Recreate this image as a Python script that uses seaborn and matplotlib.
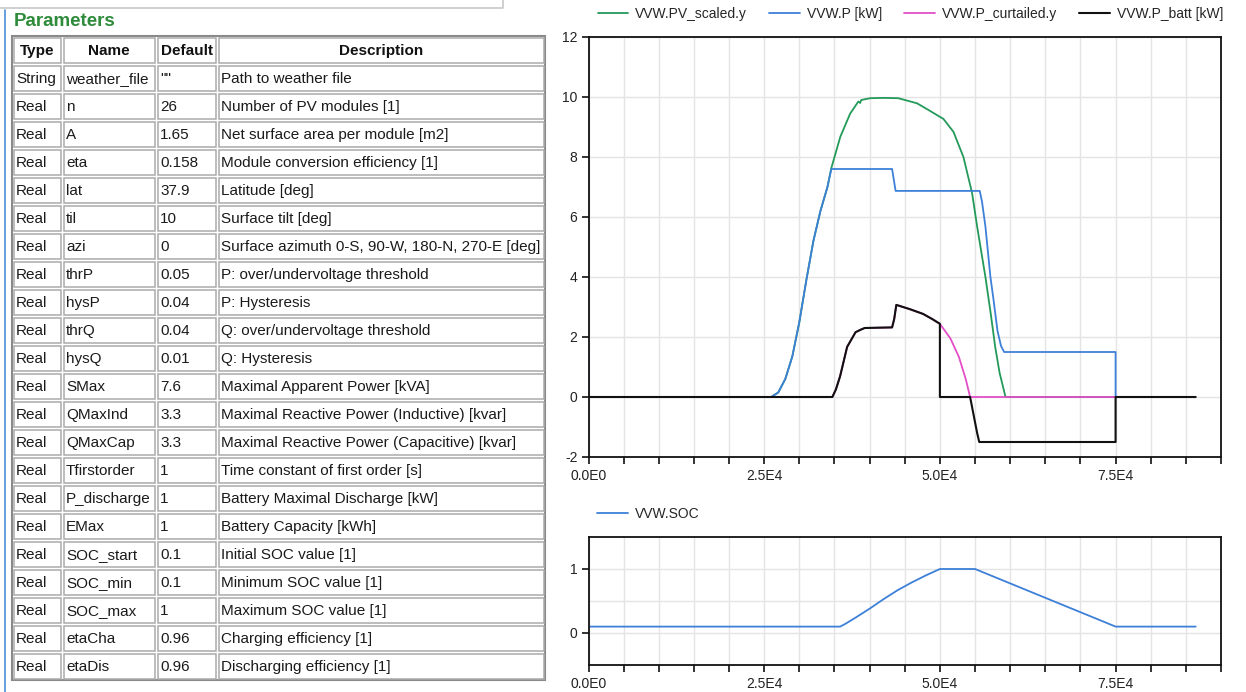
import matplotlib
matplotlib.use("Agg")
import matplotlib.pyplot as plt
from matplotlib.patches import Rectangle
from matplotlib.ticker import MultipleLocator, FixedLocator
import seaborn as sns

# ---------------- parameter table ----------------
table_header = ["Type", "Name", "Default", "Description"]
param_types = ["String"] + ["Real"] * 21
param_names = ["weather_file", "n", "A", "eta", "lat", "til", "azi", "thrP", "hysP",
               "thrQ", "hysQ", "SMax", "QMaxInd", "QMaxCap", "Tfirstorder",
               "P_discharge", "EMax", "SOC_start", "SOC_min", "SOC_max", "etaCha", "etaDis"]
param_defaults = ['""', "26", "1.65", "0.158", "37.9", "10", "0", "0.05", "0.04", "0.04",
                  "0.01", "7.6", "3.3", "3.3", "1", "1", "1", "0.1", "0.1", "1", "0.96", "0.96"]
param_desc = ["Path to weather file",
              "Number of PV modules [1]",
              "Net surface area per module [m2]",
              "Module conversion efficiency [1]",
              "Latitude [deg]",
              "Surface tilt [deg]",
              "Surface azimuth 0-S, 90-W, 180-N, 270-E [deg]",
              "P: over/undervoltage threshold",
              "P: Hysteresis",
              "Q: over/undervoltage threshold",
              "Q: Hysteresis",
              "Maximal Apparent Power [kVA]",
              "Maximal Reactive Power (Inductive) [kvar]",
              "Maximal Reactive Power (Capacitive) [kvar]",
              "Time constant of first order [s]",
              "Battery Maximal Discharge [kW]",
              "Battery Capacity [kWh]",
              "Initial SOC value [1]",
              "Minimum SOC value [1]",
              "Maximum SOC value [1]",
              "Charging efficiency [1]",
              "Discharging efficiency [1]"]

# ---------------- simulation results (time in s) ----------------
t_pv = [0, 26000, 27000, 28000, 29000, 30000, 31000, 32000, 33000, 34000, 34550, 35840,
        37240, 38400, 38660, 38800, 40080, 42000, 44080, 46750, 48500, 50500, 51930,
        53350, 54580, 55300, 56480, 57240, 57870, 58500, 59340, 75000]
pv_scaled = [0, 0, 0.15, 0.6, 1.35, 2.5, 3.9, 5.2, 6.2, 7.0, 7.63, 8.68,
             9.45, 9.85, 9.80, 9.90, 9.96, 9.97, 9.96, 9.79, 9.55, 9.27, 8.84,
             8.0, 6.8, 5.68, 4.0, 2.77, 1.67, 0.8, 0, 0]

t_p = [0, 0, 26000, 27000, 28000, 29000, 30000, 31000, 32000, 33000, 34000, 34550,
       43200, 43700, 55670, 56000, 56480, 57190, 57600, 58200, 58700, 59140, 75000, 75000]
p_out = [1.5, 0, 0, 0.15, 0.6, 1.35, 2.5, 3.9, 5.2, 6.2, 7.0, 7.6,
         7.6, 6.87, 6.87, 6.5, 5.68, 4.0, 3.3, 2.2, 1.7, 1.5, 1.5, 0]

t_curt = [0, 34700, 35200, 35800, 36800, 38000, 38700, 39300, 43200, 43500, 43800,
          45700, 47600, 48900, 50000, 51500, 52700, 53700, 54300, 75000]
p_curt = [0, 0, 0.25, 0.69, 1.67, 2.16, 2.24, 2.3, 2.32, 2.6, 3.07,
          2.93, 2.77, 2.6, 2.44, 1.95, 1.34, 0.58, 0, 0]

t_batt = [0, 34700, 35200, 35800, 36800, 38000, 38700, 39300, 43200, 43500, 43800,
          45700, 47600, 48900, 50000, 50000, 54300, 54800, 55300, 55600, 75000, 75000, 86400]
p_batt = [0, 0, 0.25, 0.69, 1.67, 2.16, 2.24, 2.3, 2.32, 2.6, 3.07,
          2.93, 2.77, 2.6, 2.44, 0, 0, -0.6, -1.2, -1.5, -1.5, 0, 0]

t_soc = [0, 35800, 36500, 38000, 40000, 42000, 44000, 46000, 48000, 50000, 55000,
         65000, 75000, 86400]
soc = [0.1, 0.1, 0.14, 0.24, 0.38, 0.53, 0.67, 0.79, 0.9, 1.0, 1.0,
       0.55, 0.1, 0.1]

x_tick_values = [0, 25000, 50000, 75000]
x_tick_labels = ["0.0E0", "2.5E4", "5.0E4", "7.5E4"]

# ---------------- figure ----------------
sns.set_theme(style="white")
plt.rcParams["font.family"] = ["Liberation Sans", "DejaVu Sans"]
plt.rcParams["axes.unicode_minus"] = False

W, H = 1246, 692
fig = plt.figure(figsize=(W / 100, H / 100), dpi=100)
fig.patch.set_facecolor("white")

# overlay axes in pixel units for the table and frame decorations
ax_t = fig.add_axes([0, 0, 1, 1])
ax_t.set_xlim(0, W)
ax_t.set_ylim(H, 0)
ax_t.axis("off")

ax_t.plot([0, 503, 503], [8, 8, 0], color="#c8c8c8", lw=1.2)
ax_t.plot([5, 5], [10, H], color="#4a8fd8", lw=1.2)
ax_t.text(14, 22, "Parameters", color="#2e8b3a", fontsize=13.5, fontweight="bold",
          va="center", ha="left")

col_edges = [12, 62, 156, 217, 545]
row_top, row_h = 36, 28
n_rows = len(param_names) + 1
ax_t.add_patch(Rectangle((col_edges[0], row_top), col_edges[-1] - col_edges[0],
                         n_rows * row_h, fill=False, edgecolor="#8a8a8a", lw=1.5))
rows = [table_header] + [list(r) for r in zip(param_types, param_names, param_defaults, param_desc)]
for i, row in enumerate(rows):
    y0 = row_top + i * row_h
    for j, txt in enumerate(row):
        x0, x1 = col_edges[j], col_edges[j + 1]
        ax_t.add_patch(Rectangle((x0 + 1.5, y0 + 1.5), x1 - x0 - 3, row_h - 3,
                                 fill=False, edgecolor="#ababab", lw=1.1))
        if i == 0:
            ax_t.text((x0 + x1) / 2, y0 + row_h / 2 + 1, txt, fontsize=11,
                      fontweight="bold", ha="center", va="center", color="#111111")
        else:
            ax_t.text(x0 + 4, y0 + row_h / 2 + 1, txt, fontsize=11,
                      ha="left", va="center", color="#1a1a1a")

# ---------------- plots ----------------
def fx(px):
    return px / W

def fy(py):
    return 1 - py / H

left, right = 588.5, 1221
ax1 = fig.add_axes([fx(left), fy(457), fx(right - left), (457 - 37) / H])
ax2 = fig.add_axes([fx(left), fy(665), fx(right - left), (665 - 537) / H])

c_green, c_blue, c_pink, c_black = "#23995a", "#3d80d8", "#e24fc6", "#111111"
lw = 1.3
sns.lineplot(x=t_pv, y=pv_scaled, ax=ax1, color=c_green, lw=lw, estimator=None,
             sort=False, legend=False, label="VVW.PV_scaled.y")
sns.lineplot(x=t_p, y=p_out, ax=ax1, color=c_blue, lw=lw, estimator=None,
             sort=False, legend=False, label="VVW.P [kW]")
sns.lineplot(x=t_curt, y=p_curt, ax=ax1, color=c_pink, lw=lw, estimator=None,
             sort=False, legend=False, label="VVW.P_curtailed.y")
sns.lineplot(x=t_batt, y=p_batt, ax=ax1, color=c_black, lw=lw + 0.2, estimator=None,
             sort=False, legend=False, label="VVW.P_batt [kW]")
sns.lineplot(x=t_soc, y=soc, ax=ax2, color=c_blue, lw=lw, estimator=None,
             sort=False, legend=False, label="VVW.SOC")

for ax in (ax1, ax2):
    ax.set_xlim(0, 90000)
    ax.xaxis.set_major_locator(FixedLocator(x_tick_values))
    ax.set_xticklabels(x_tick_labels)
    ax.xaxis.set_minor_locator(MultipleLocator(5000))
    ax.grid(True, which="both", color="#e4e4e4", lw=1.0)
    ax.set_axisbelow(True)
    ax.set_xlabel("")
    ax.set_ylabel("")
    for s in ax.spines.values():
        s.set_visible(True)
        s.set_color("#111111")
        s.set_linewidth(1.3)
    ax.tick_params(axis="both", which="both", direction="out", length=5, width=1.2,
                   color="#111111", labelsize=10, labelcolor="#222222", pad=3,
                   bottom=True, left=True)
    ax.tick_params(axis="x", which="major", pad=4)

ax1.set_ylim(-2, 12)
ax1.yaxis.set_major_locator(MultipleLocator(2))

ax2.set_ylim(-0.5, 1.5)
ax2.yaxis.set_major_locator(FixedLocator([0, 1]))
ax2.yaxis.set_minor_locator(FixedLocator([0.5]))
ax2.tick_params(axis="y", which="minor", length=0)

h1, l1 = ax1.get_legend_handles_labels()
fig.legend(h1, l1, loc="center right", bbox_to_anchor=(fx(1223), fy(14)), ncol=4,
           frameon=False, fontsize=10, handlelength=2.2, handletextpad=0.5,
           columnspacing=1.6, borderpad=0, borderaxespad=0)
h2, l2 = ax2.get_legend_handles_labels()
fig.legend(h2, l2, loc="center left", bbox_to_anchor=(fx(597), fy(514)),
           frameon=False, fontsize=10, handlelength=2.2, handletextpad=0.5,
           borderpad=0, borderaxespad=0)

fig.savefig("out.png", dpi=100, facecolor="white")
